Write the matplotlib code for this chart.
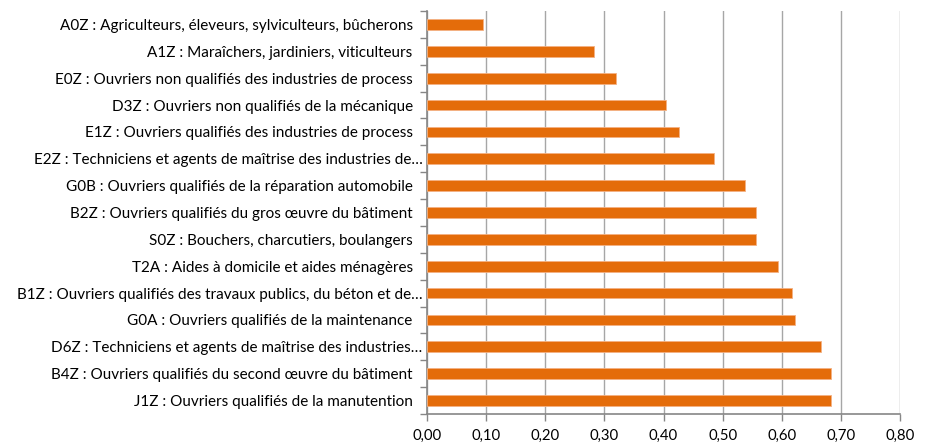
import numpy as np
import matplotlib.pyplot as plt
import matplotlib.transforms as mtransforms
from matplotlib.ticker import FuncFormatter

# Métiers (de haut en bas) et valeurs
metiers = [
    "A0Z : Agriculteurs, éleveurs, sylviculteurs, bûcherons",
    "A1Z : Maraîchers, jardiniers, viticulteurs",
    "E0Z : Ouvriers non qualifiés des industries de process",
    "D3Z : Ouvriers non qualifiés de la mécanique",
    "E1Z : Ouvriers qualifiés des industries de process",
    "E2Z : Techniciens et agents de maîtrise des industries de…",
    "G0B : Ouvriers qualifiés de la réparation automobile",
    "B2Z : Ouvriers qualifiés du gros œuvre du bâtiment",
    "S0Z : Bouchers, charcutiers, boulangers",
    "T2A : Aides à domicile et aides ménagères",
    "B1Z : Ouvriers qualifiés des travaux publics, du béton et de…",
    "G0A : Ouvriers qualifiés de la maintenance",
    "D6Z : Techniciens et agents de maîtrise des industries…",
    "B4Z : Ouvriers qualifiés du second œuvre du bâtiment",
    "J1Z : Ouvriers qualifiés de la manutention",
]
valeurs = [0.094, 0.283, 0.319, 0.404, 0.426, 0.485, 0.537, 0.557, 0.557,
           0.593, 0.618, 0.622, 0.667, 0.684, 0.684]
graduations = [0.0, 0.1, 0.2, 0.3, 0.4, 0.5, 0.6, 0.7, 0.8]

plt.rcParams['font.family'] = ['Lato', 'DejaVu Sans']

fig = plt.figure(figsize=(9.35, 4.47), dpi=100)
ax = fig.add_axes([0.4567, 0.0738, 0.5059, 0.9016])

y = np.arange(len(metiers))
ax.barh(y, valeurs, height=0.4, color='#E46C0A', edgecolor='#F4B183',
        linewidth=0.6, zorder=3)

ax.set_xlim(0, 0.8)
ax.set_ylim(len(metiers) - 0.5, -0.5)
ax.set_xticks(graduations)
ax.xaxis.set_major_formatter(FuncFormatter(lambda v, p: f"{v:.2f}".replace('.', ',')))
ax.set_yticks(y)
ax.set_yticklabels(metiers)
ax.set_yticks(np.arange(len(metiers) + 1) - 0.5, minor=True)

ax.grid(axis='x', color='#A6A6A6', linewidth=1.0, zorder=0)
for s in ['top', 'right']:
    ax.spines[s].set_visible(False)
for s in ['left', 'bottom']:
    ax.spines[s].set_color('#868686')
    ax.spines[s].set_linewidth(1.2)

ax.tick_params(axis='y', which='major', length=0, pad=10.3, labelsize=11, labelcolor='#000000')
ax.tick_params(axis='y', which='minor', length=5, color='#868686', width=1)
ax.tick_params(axis='x', which='major', length=5, color='#868686', width=1,
               labelsize=10.7, pad=6)

# les libellés tronqués débordent un peu plus vers l'axe
decalage = mtransforms.ScaledTranslation(7 / 72, 0, fig.dpi_scale_trans)
for lab in ax.get_yticklabels():
    if lab.get_text().endswith("…"):
        lab.set_transform(lab.get_transform() + decalage)

plt.savefig("out.png", dpi=100)
plt.close()
